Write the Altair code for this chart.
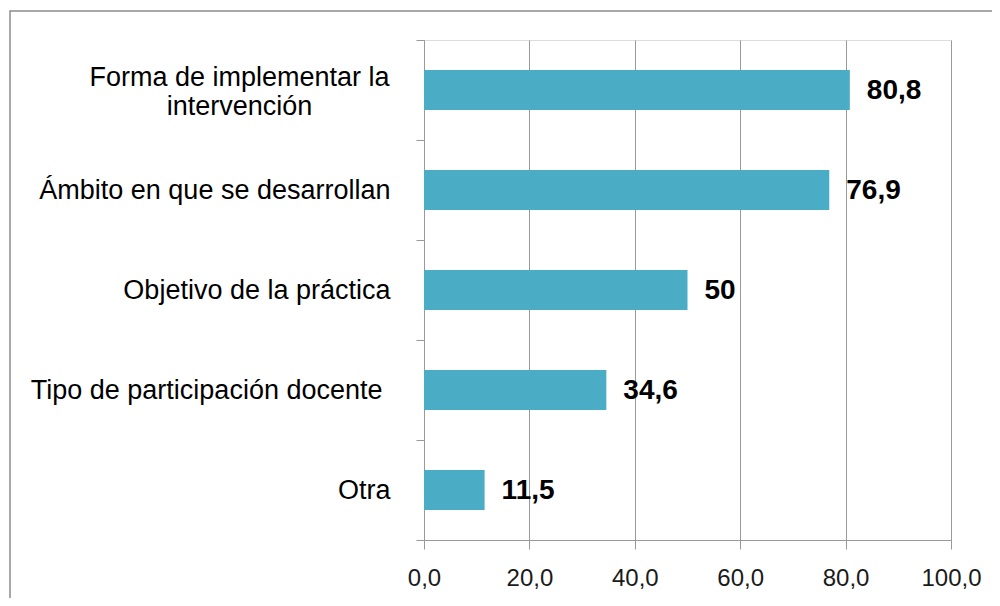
import altair as alt
import pandas as pd

categories = [
    "Forma de implementar la intervención",
    "Ámbito en que se desarrollan",
    "Objetivo de la práctica",
    "Tipo de participación docente",
    "Otra",
]
values = [80.8, 76.9, 50, 34.6, 11.5]
x_ticks = [0, 20, 40, 60, 80, 100]

labels = [f"{v:g}".replace(".", ",") for v in values]
df = pd.DataFrame({"cat": categories, "val": values, "lab": labels})

FONT = "Liberation Sans"
GRAY = "#999999"
BAR = "#4BACC6"

first = categories[0]
fourth = categories[3]

y_enc = alt.Y(
    "cat:N",
    sort=categories,
    scale=alt.Scale(paddingInner=0, paddingOuter=0),
    axis=alt.Axis(
        title=None,
        tickBand="extent",
        tickSize=8,
        tickColor=GRAY,
        domainColor=GRAY,
        labelFont=FONT,
        labelFontSize=27,
        labelColor="#000000",
        labelLineHeight=29,
        labelLimit=500,
        labelExpr=f"datum.value == '{first}' ? ['Forma de implementar la', 'intervención'] : datum.label",
        labelAlign={
            "condition": {"test": f"datum.value == '{first}'", "value": "center"},
            "value": "right",
        },
        labelOffset={
            "condition": {"test": f"datum.value == '{first}'", "value": -13},
            "value": 0,
        },
        labelPadding={
            "condition": [
                {"test": f"datum.value == '{first}'", "value": 177},
                {"test": f"datum.value == '{fourth}'", "value": 34},
            ],
            "value": 26,
        },
    ),
)

x_enc = alt.X(
    "val:Q",
    scale=alt.Scale(domain=[0, 100], nice=False, zero=True),
    axis=alt.Axis(
        title=None,
        values=x_ticks,
        grid=True,
        gridColor=GRAY,
        gridWidth=1,
        tickSize=9,
        tickColor=GRAY,
        domainColor=GRAY,
        labelFont=FONT,
        labelFontSize=24,
        labelColor="#1a1a1a",
        labelPadding=17,
        labelFlush=False,
        labelExpr="replace(format(datum.value, '.1f'), '.', ',')",
    ),
)

base = alt.Chart(df)

bars = base.mark_bar(color=BAR, height=alt.RelativeBandSize(0.4)).encode(y=y_enc, x=x_enc)

texts = base.mark_text(
    align="left", baseline="middle", dx=17, dy=1,
    font=FONT, fontSize=28, fontWeight="bold", color="#000000",
).encode(y=alt.Y("cat:N", sort=categories), x="val:Q", text="lab:N")

frame = alt.Chart(pd.DataFrame({"a": [0]})).mark_rect(
    fill=None, stroke="#8c8c8c", strokeWidth=1.5
).encode(
    x=alt.value(-414), x2=alt.value(1200), y=alt.value(-29), y2=alt.value(1200)
)

chart = alt.layer(frame, bars, texts).properties(
    width=527,
    height=500,
    autosize=alt.AutoSizeParams(type="none"),
    padding={"left": 416, "top": 32, "right": 41, "bottom": 58},
).configure_view(stroke=None).configure(background="white")

chart.save("out.html", embed_options={"renderer": "svg", "actions": False})
